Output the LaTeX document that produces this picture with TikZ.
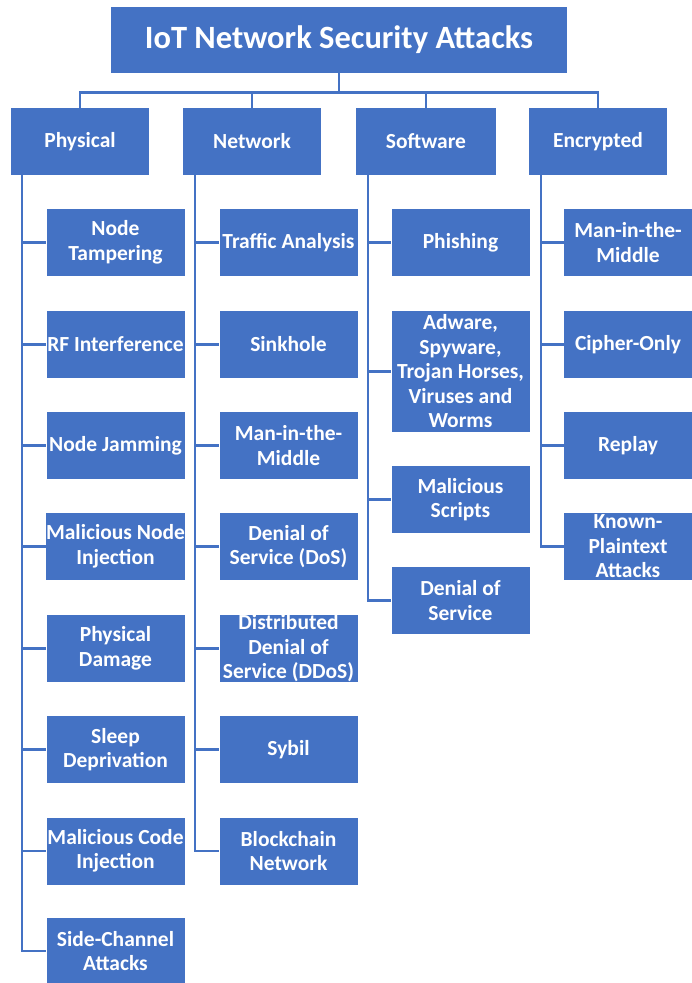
\documentclass[tikz,border=0pt]{standalone}
\usepackage{fontspec}
\setmainfont{Carlito}
\definecolor{iotblue}{RGB}{68,114,196}

\begin{document}
\begin{tikzpicture}[x=1pt, y=-1pt,
        box/.style={draw=none, fill=iotblue, text=white, font=\bfseries\fontsize{21.5}{24.5}\selectfont,
            align=center, inner xsep=0pt, inner ysep=0pt, minimum height=67pt},
        cat/.style={box, minimum width=138pt},
        leaf/.style={box, minimum width=138pt},
        link/.style={draw=iotblue, line width=2.6pt}]
    \useasboundingbox (0, 0) rectangle (692, 983);
    %\draw[lightgray] (0, 0) grid[step=50] (692, 983);

    % title and categories
    \node[box, minimum width=456pt, minimum height=66pt, font=\bfseries\fontsize{32.5}{38}\selectfont] (title) at (339, 40) {IoT Network Security Attacks};
    \node[cat] (phys) at (80, 141.5) {Physical};
    \node[cat] (net) at (252, 141.5) {Network};
    \node[cat, minimum width=140pt] (soft) at (426, 141.5) {Software};
    \node[cat] (enc) at (598, 141.5) {Encrypted};

    \coordinate (hub) at ([yshift=-19pt]title.south);
    \draw[link] (title.south) -- (hub);
    \foreach \c in {phys, net, soft, enc}
        \draw[link] (hub) -| (\c.north);

    % physical
    \node[leaf] (p1) at (115.5, 242.5) {Node\\Tampering};
    \node[leaf] (p2) at (115.5, 344.5) {RF Interference};
    \node[leaf] (p3) at (115.5, 445.5) {Node Jamming};
    \node[leaf] (p4) at (115.5, 546.5) {Malicious Node\\Injection};
    \node[leaf] (p5) at (115.5, 648.5) {Physical\\Damage};
    \node[leaf] (p6) at (115.5, 749.5) {Sleep\\Deprivation};
    \node[leaf] (p7) at (115.5, 851) {Malicious Code\\Injection};
    \node[leaf] (p8) at (115.5, 951) {Side-Channel\\Attacks};
    \foreach \c in {p1, p2, p3, p4, p5, p6, p7, p8}
        \draw[link] ([xshift=11pt]phys.south west) |- (\c.west);

    % network
    \node[leaf] (n1) at (288.5, 242.5) {Traffic Analysis};
    \node[leaf] (n2) at (288.5, 344.5) {Sinkhole};
    \node[leaf] (n3) at (288.5, 445.5) {Man-in-the-\\Middle};
    \node[leaf] (n4) at (288.5, 546.5) {Denial of\\Service (DoS)};
    \node[leaf] (n5) at (288.5, 648.5) {Distributed\\Denial of\\Service (DDoS)};
    \node[leaf] (n6) at (288.5, 749.5) {Sybil};
    \node[leaf] (n7) at (288.5, 851) {Blockchain\\Network};
    \foreach \c in {n1, n2, n3, n4, n5, n6, n7}
        \draw[link] ([xshift=12pt]net.south west) |- (\c.west);

    % software
    \node[leaf] (s1) at (460.5, 242.5) {Phishing};
    \node[leaf, minimum height=121pt] (s2) at (460.5, 371.5) {Adware,\\Spyware,\\Trojan Horses,\\Viruses and\\Worms};
    \node[leaf] (s3) at (460.5, 499.5) {Malicious\\Scripts};
    \node[leaf] (s4) at (460.5, 600.5) {Denial of\\Service};
    \foreach \c in {s1, s2, s3, s4}
        \draw[link] ([xshift=12pt]soft.south west) |- (\c.west);

    % encrypted
    \node[leaf, minimum width=128pt] (e1) at (628, 242.5) {Man-in-the-\\Middle};
    \node[leaf, minimum width=128pt] (e2) at (628, 344.5) {Cipher-Only};
    \node[leaf, minimum width=128pt] (e3) at (628, 445.5) {Replay};
    \node[leaf, minimum width=128pt] (e4) at (628, 546.5) {Known-\\Plaintext\\Attacks};
    \foreach \c in {e1, e2, e3, e4}
        \draw[link] ([xshift=12pt]enc.south west) |- (\c.west);
\end{tikzpicture}
\end{document}
